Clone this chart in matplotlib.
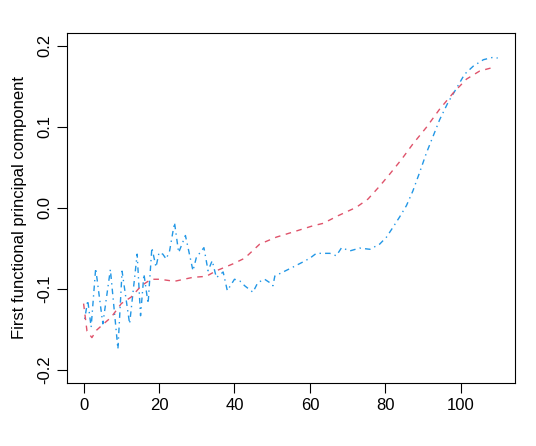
import matplotlib
matplotlib.use('Agg')
import matplotlib.pyplot as plt

plt.rcParams['font.family'] = ['Liberation Sans', 'DejaVu Sans']

# smooth fPC (red, dashed)
red_x = [0, 0.9, 2.2, 3.4, 5.3, 7.3, 10, 12.6, 15.3, 17.9, 20.2, 24.1, 29, 32.5,
         35.2, 39.6, 42.7, 46.7, 51.1, 56, 60.8, 63.5, 67.5, 72.3, 75.4, 78.5,
         81.2, 84.3, 87.3, 90.9, 94.4, 98, 101.5, 105, 109]
red_y = [-0.118, -0.152, -0.160, -0.151, -0.143, -0.135, -0.118, -0.110, -0.096,
         -0.088, -0.088, -0.0905, -0.0856, -0.0844, -0.0775, -0.069, -0.062,
         -0.0446, -0.036, -0.029, -0.022, -0.019, -0.0095, 0.0008, 0.011, 0.027,
         0.042, 0.060, 0.079, 0.0996, 0.122, 0.142, 0.159, 0.169, 0.174]

# raw fPC (blue, dot-dash)
blue_x = [0.3, 1.1, 2.0, 3.2, 5.1, 7.1, 9.1, 10.2, 12.2, 14.2, 15.1, 16.0, 17.1,
          18.1, 19.2, 20.0, 21.0, 21.9, 22.8, 24.1, 25.2, 27.0, 29.0, 29.9, 31.9,
          33.0, 34.1, 35.2, 37.0, 38.1, 40.0, 41.4, 42.7, 44.9, 46.2, 48.0, 49.3,
          50.2, 50.7, 52.9, 55.5, 58, 60, 61.7, 65.3, 67, 68.4, 70.6, 73.2, 75.9,
          78.5, 80.3, 82, 83.8, 85.6, 87.3, 89.1, 90.9, 92.7, 94.4, 96.6, 98.9,
          101, 103.3, 106, 108.6, 109.8]
blue_y = [-0.137, -0.114, -0.147, -0.0745, -0.143, -0.076, -0.174, -0.078, -0.143,
          -0.057, -0.133, -0.0815, -0.118, -0.049, -0.073, -0.055, -0.057, -0.063,
          -0.053, -0.018, -0.055, -0.034, -0.0775, -0.061, -0.049, -0.0775, -0.065,
          -0.086, -0.079, -0.102, -0.088, -0.090, -0.096, -0.104, -0.092, -0.088,
          -0.092, -0.096, -0.084, -0.079, -0.073, -0.067, -0.062, -0.056, -0.056,
          -0.059, -0.049, -0.053, -0.0495, -0.051, -0.0446, -0.036, -0.024, -0.011,
          0.003, 0.021, 0.044, 0.068, 0.089, 0.109, 0.130, 0.148, 0.165, 0.175,
          0.183, 0.186, 0.185]

x_ticks = [0, 20, 40, 60, 80, 100]
y_ticks = [-0.2, -0.1, 0.0, 0.1, 0.2]
y_tick_labels = ['-0.2', '-0.1', '0.0', '0.1', '0.2']

fig = plt.figure(figsize=(5.36, 4.46), dpi=100)
ax = fig.add_axes([0.125, 0.1413, 0.836, 0.7848])

ax.plot(blue_x, blue_y, color='#2297E6', linestyle=(0, (1, 3, 4, 3)), linewidth=1)
ax.plot(red_x, red_y, color='#DF536B', linestyle=(0, (4, 4)), linewidth=1)

ax.set_xlim(-4.4, 114.4)
ax.set_ylim(-0.216, 0.216)
ax.set_xticks(x_ticks)
ax.set_yticks(y_ticks)
ax.set_yticklabels(y_tick_labels, rotation=90, va='center')
ax.tick_params(length=7, labelsize=12, direction='out')
ax.set_ylabel('First functional principal component', fontsize=12, labelpad=7.5)
for s in ax.spines.values():
    s.set_linewidth(0.8)

fig.savefig('out.png', dpi=100)
